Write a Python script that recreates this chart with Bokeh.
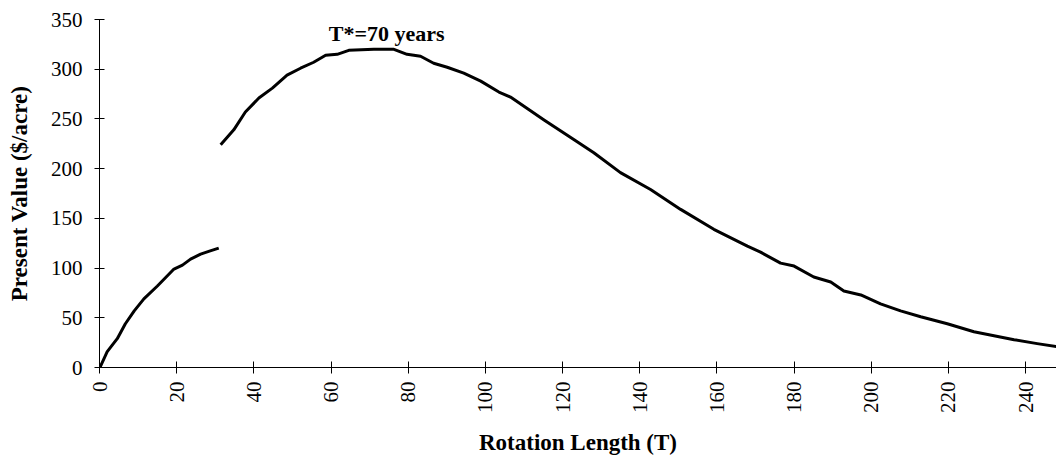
import math
from bokeh.plotting import figure
from bokeh.models import Range1d, Label, FixedTicker
from bokeh.embed import file_html
from bokeh.resources import INLINE

# Segment 1: rotation lengths before 31 years
t_early = [0, 2.0, 4.6, 6.7, 9.0, 11.5, 15.0, 19.3, 21.5, 23.6, 26.2, 28.5, 30.9]
pv_early = [-1, 16, 29, 44, 57, 69, 82, 99, 103, 109, 114, 117, 120]

# Segment 2: rotation lengths from 31 years on
t_late = [31.4, 34.8, 37.8, 41.3, 44.8, 48.6, 52.1, 55.5, 58.6, 61.6, 64.6, 71.1, 76.3,
          79.7, 83.2, 86.6, 90.1, 94.4, 98.8, 103.5, 106.5, 115.2, 123.0, 128.1, 135.0,
          142.8, 150.6, 159.2, 167.9, 171.3, 176.5, 180.0, 185.1, 189.5, 192.9, 197.3,
          202.4, 207.6, 212.8, 219.7, 226.6, 231.8, 237.0, 243.0, 248.0]
pv_late = [224, 239, 257, 271, 281, 294, 301, 307, 314, 315, 319, 320, 320,
           315, 313, 306, 302, 296, 288, 277, 272, 249, 229, 216, 196,
           179, 159, 139, 122, 116, 105, 102, 91, 86, 77, 73,
           64, 57, 51, 44, 36, 32, 28, 24, 21]

x_ticks = [0, 20, 40, 60, 80, 100, 120, 140, 160, 180, 200, 220, 240]
y_ticks = [0, 50, 100, 150, 200, 250, 300, 350]

T_STAR = 70
PEAK_PV = 320
annot_text = "T*=70 years"
x_title = "Rotation Length (T)"
y_title = "Present Value ($/acre)"

FONT = "Liberation Serif"

p = figure(width=1056, height=458, output_backend="svg", toolbar_location=None,
           x_range=Range1d(0, 248), y_range=Range1d(0, 350),
           min_border_left=99, min_border_right=0, min_border_top=19, min_border_bottom=89)
p.outline_line_color = None
p.xgrid.visible = False
p.ygrid.visible = False
p.background_fill_color = "white"
p.border_fill_color = "white"

p.line(t_early, pv_early, line_color="black", line_width=3, line_join="round")
p.line(t_late, pv_late, line_color="black", line_width=3, line_join="round")

p.add_layout(Label(x=T_STAR, y=PEAK_PV, x_offset=17, y_offset=16, text=annot_text,
                   text_align="center", text_baseline="alphabetic",
                   text_font=FONT, text_font_style="bold", text_font_size="22px",
                   text_color="black"))

xa = p.xaxis[0]
xa.ticker = FixedTicker(ticks=x_ticks)
xa.minor_tick_line_color = None
xa.major_tick_in = 6
xa.major_tick_out = 6
xa.major_label_orientation = math.pi / 2
xa.major_label_standoff = 8
xa.major_label_text_font = FONT
xa.major_label_text_font_size = "21px"
xa.major_label_text_color = "black"
xa.axis_label = x_title
xa.axis_label_text_font = FONT
xa.axis_label_text_font_style = "bold"
xa.axis_label_text_font_size = "23px"
xa.axis_label_text_color = "black"
xa.axis_label_standoff = 14
xa.axis_line_color = "black"
xa.major_tick_line_color = "black"

ya = p.yaxis[0]
ya.ticker = FixedTicker(ticks=y_ticks)
ya.minor_tick_line_color = None
ya.major_tick_in = 5
ya.major_tick_out = 5
ya.major_label_standoff = 12
ya.major_label_text_font = FONT
ya.major_label_text_font_size = "21px"
ya.major_label_text_color = "black"
ya.axis_label = y_title
ya.axis_label_text_font = FONT
ya.axis_label_text_font_style = "bold"
ya.axis_label_text_font_size = "23px"
ya.axis_label_text_color = "black"
ya.axis_label_standoff = 16
ya.axis_line_color = "black"
ya.major_tick_line_color = "black"

open("out.html", "w").write(file_html(p, INLINE))
